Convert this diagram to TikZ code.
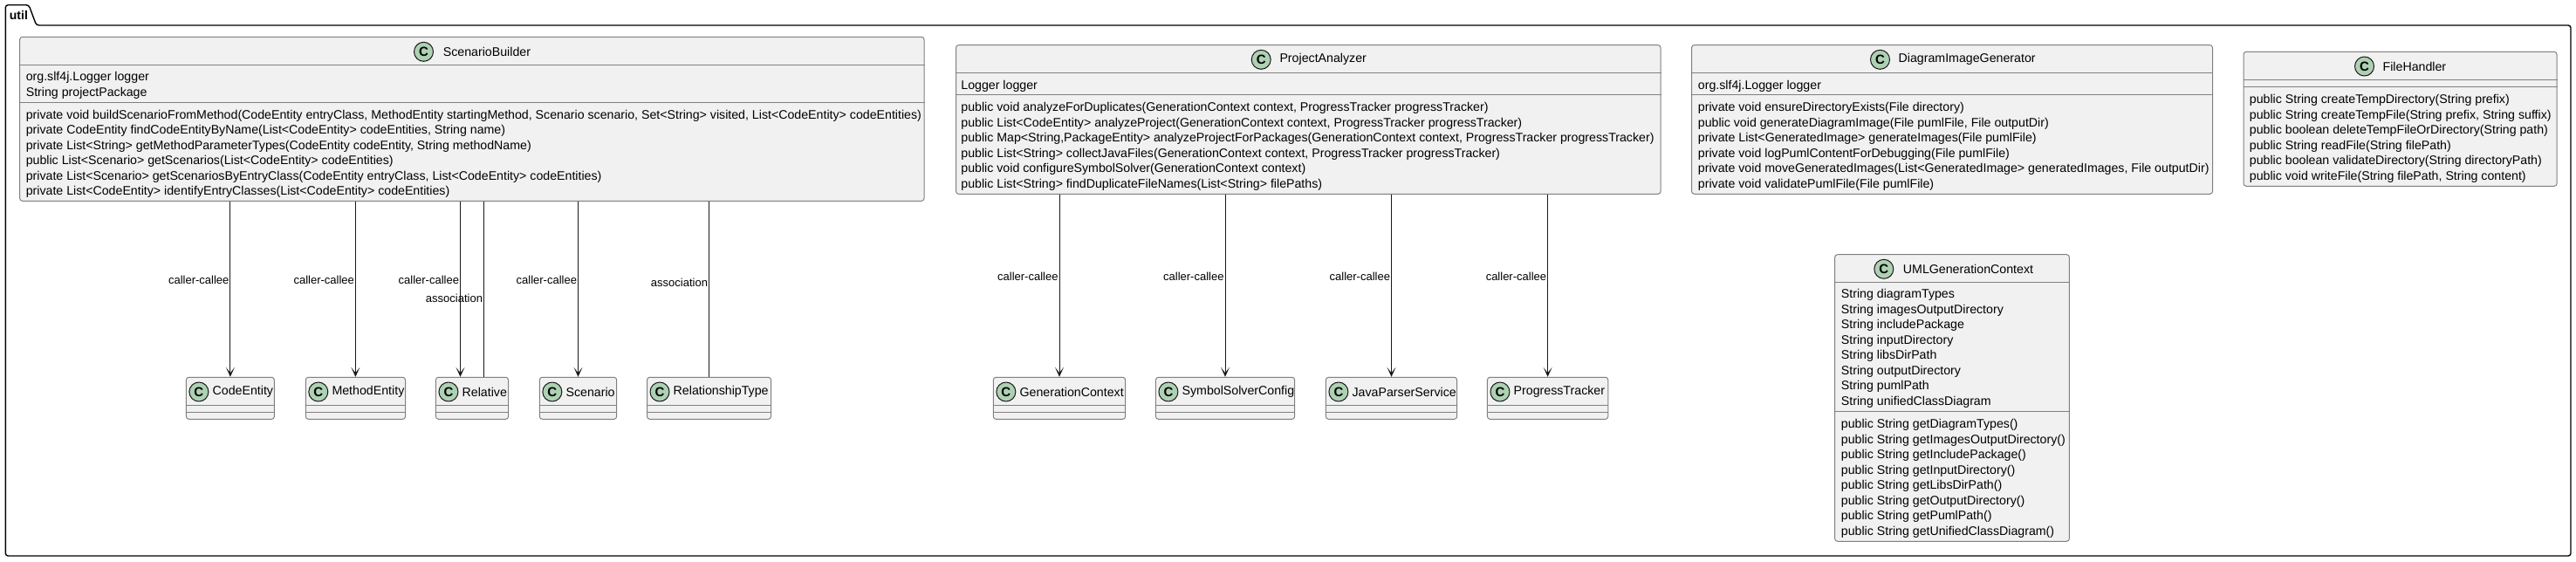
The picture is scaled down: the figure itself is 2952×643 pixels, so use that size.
\documentclass[tikz,border=0pt]{standalone}
\usepackage{fontspec}
\setmainfont{Liberation Sans}
\usetikzlibrary{arrows.meta,positioning}
\definecolor{boxfill}{HTML}{F1F1F1}
\definecolor{spotfill}{HTML}{ADD1B2}
\definecolor{inkline}{HTML}{181818}
\begin{document}
\begin{tikzpicture}[x=1pt, y=-1pt, line join=round, >={Stealth[length=11pt,width=10pt,inset=6.5pt]},
    classbox/.style={draw=gray, line width=1pt, fill=boxfill, rounded corners=3pt, inner sep=0pt},
    classname/.style={anchor=west, inner sep=0pt, font=\fontsize{14.2}{17}\selectfont},
    classmark/.style={circle, draw=inkline, line width=1pt, fill=spotfill, minimum size=22pt, inner sep=0pt, font=\fontsize{15}{17}\selectfont\bfseries},
    members/.style={anchor=west, align=left, inner sep=0pt, yshift=-1.2pt, font=\fontsize{14.18}{17.5}\selectfont},
    sepline/.style={draw=gray, line width=1pt},
    call/.style={draw=inkline, line width=1pt, ->},
    assoc/.style={draw=inkline, line width=1pt},
    linklabel/.style={left, inner sep=1pt, font=\fontsize{13}{15}\selectfont}]

    \useasboundingbox (0,0) rectangle (2952,643);

    \draw[line width=1.4pt, rounded corners=3pt] (6.3,29) -- (6.3,5.7) -- (33,5.7) -- (41.7,29) -- (2946,29) -- (2946,637) -- (6.3,637) -- (6.3,29);
    \node[anchor=base west, inner sep=0pt, font=\fontsize{14}{17}\selectfont\bfseries] (util) at (10.7,22.7) {util};

    \node[classbox, minimum width=1036.3pt, minimum height=188pt] (sb) at (540.85,136.3) {};
    \draw[sepline] (sb.west |- 0,74.3) -- (sb.east |- 0,74.3);
    \draw[sepline] (sb.west |- 0,117.3) -- (sb.east |- 0,117.3);
    \node[classname] (sbname) at (507.6,59.3) {ScenarioBuilder};
    \node[classmark, left=10.6pt of sbname] (sbmark) {C};
    \node[members] (sbfields) at (29.6,97) {\strut org.slf4j.Logger logger\\String projectPackage\strut};
    \node[members] (sbmethods) at (29.6,175.5) {\strut private void buildScenarioFromMethod(CodeEntity entryClass, MethodEntity startingMethod, Scenario scenario, Set<String> visited, List<CodeEntity> codeEntities)\\
        private CodeEntity findCodeEntityByName(List<CodeEntity> codeEntities, String name)\\
        private List<String> getMethodParameterTypes(CodeEntity codeEntity, String methodName)\\
        public List<Scenario> getScenarios(List<CodeEntity> codeEntities)\\
        private List<Scenario> getScenariosByEntryClass(CodeEntity entryClass, List<CodeEntity> codeEntities)\\
        private List<CodeEntity> identifyEntryClasses(List<CodeEntity> codeEntities)\strut};

    \node[classbox, minimum width=807.5pt, minimum height=170.6pt] (pa) at (1499.25,137) {};
    \draw[sepline] (pa.west |- 0,83.3) -- (pa.east |- 0,83.3);
    \draw[sepline] (pa.west |- 0,108.7) -- (pa.east |- 0,108.7);
    \node[classname] (paname) at (1466.3,68.3) {ProjectAnalyzer};
    \node[classmark, left=9.6pt of paname] (pamark) {C};
    \node[members] (pafields) at (1101.2,97.7) {\strut Logger logger\strut};
    \node[members] (pamethods) at (1101.2,166.8) {\strut public void analyzeForDuplicates(GenerationContext context, ProgressTracker progressTracker)\\
        public List<CodeEntity> analyzeProject(GenerationContext context, ProgressTracker progressTracker)\\
        public Map<String,PackageEntity> analyzeProjectForPackages(GenerationContext context, ProgressTracker progressTracker)\\
        public List<String> collectJavaFiles(GenerationContext context, ProgressTracker progressTracker)\\
        public void configureSymbolSolver(GenerationContext context)\\
        public List<String> findDuplicateFileNames(List<String> filePaths)\strut};

    \node[classbox, minimum width=597pt, minimum height=170.6pt] (dg) at (2237,137) {};
    \draw[sepline] (dg.west |- 0,83.3) -- (dg.east |- 0,83.3);
    \draw[sepline] (dg.west |- 0,108.7) -- (dg.east |- 0,108.7);
    \node[classname] (dgname) at (2175.4,68.3) {DiagramImageGenerator};
    \node[classmark, left=9.4pt of dgname] (dgmark) {C};
    \node[members] (dgfields) at (1945.7,97.7) {\strut org.slf4j.Logger logger\strut};
    \node[members] (dgmethods) at (1945.7,166.8) {\strut private void ensureDirectoryExists(File directory)\\
        public void generateDiagramImage(File pumlFile, File outputDir)\\
        private List<GeneratedImage> generateImages(File pumlFile)\\
        private void logPumlContentForDebugging(File pumlFile)\\
        private void moveGeneratedImages(List<GeneratedImage> generatedImages, File outputDir)\\
        private void validatePumlFile(File pumlFile)\strut};

    \node[classbox, minimum width=359pt, minimum height=154pt] (fh) at (2750.5,136.3) {};
    \draw[sepline] (fh.west |- 0,91.3) -- (fh.east |- 0,91.3);
    \draw[sepline] (fh.west |- 0,99.3) -- (fh.east |- 0,99.3);
    \node[classname] (fhname) at (2730.4,76) {FileHandler};
    \node[classmark, left=9.4pt of fhname] (fhmark) {C};
    \node[members] (fhmethods) at (2577.7,157.7) {\strut public String createTempDirectory(String prefix)\\
        public String createTempFile(String prefix, String suffix)\\
        public boolean deleteTempFileOrDirectory(String path)\\
        public String readFile(String filePath)\\
        public boolean validateDirectory(String directoryPath)\\
        public void writeFile(String filePath, String content)\strut};

    \node[classbox, minimum width=268.6pt, minimum height=328.6pt] (ug) at (2237,456) {};
    \draw[sepline] (ug.west |- 0,323.3) -- (ug.east |- 0,323.3);
    \draw[sepline] (ug.west |- 0,471.7) -- (ug.east |- 0,471.7);
    \node[classname] (ugname) at (2180.7,308.3) {UMLGenerationContext};
    \node[classmark, left=10.4pt of ugname] (ugmark) {C};
    \node[members] (ugfields) at (2109.7,398.5) {\strut String diagramTypes\\
        String imagesOutputDirectory\\
        String includePackage\\
        String inputDirectory\\
        String libsDirPath\\
        String outputDirectory\\
        String pumlPath\\
        String unifiedClassDiagram\strut};
    \node[members] (ugmethods) at (2109.7,547.3) {\strut public String getDiagramTypes()\\
        public String getImagesOutputDirectory()\\
        public String getIncludePackage()\\
        public String getInputDirectory()\\
        public String getLibsDirPath()\\
        public String getOutputDirectory()\\
        public String getPumlPath()\\
        public String getUnifiedClassDiagram()\strut};

    \foreach \id/\title/\cx/\boxw in {ce/CodeEntity/263.9/101, me/MethodEntity/407.4/114.2, re/Relative/541/83.1,
        sc/Scenario/662.5/88.3, rt/RelationshipType/812.5/142,
        gc/GenerationContext/1214/151.3, ss/SymbolSolverConfig/1404/159.2,
        jp/JavaParserService/1594.5/150.2, pt/ProgressTracker/1773.6/138.3} {
        \node[classbox, minimum width=\boxw pt, minimum height=48pt] (\id) at (\cx,456.3) {};
        \draw[sepline] (\id.west |- 0,464.3) -- (\id.east |- 0,464.3);
        \draw[sepline] (\id.west |- 0,472.3) -- (\id.east |- 0,472.3);
        \node[classname] (\id name) at ({\cx-\boxw/2+30},449) {\title};
        \node[classmark, left=4pt of \id name] (\id mark) {C};
    }

    \coordinate (recall) at ([xshift=-13.5pt]re.north);
    \coordinate (reassoc) at ([xshift=13.5pt]re.north);

    \draw[call] (sb.south -| ce.north) -- node[linklabel, pos=.45] {caller-callee} (ce.north);
    \draw[call] (sb.south -| me.north) -- node[linklabel, pos=.45] {caller-callee} (me.north);
    \draw[call] (sb.south -| recall) -- node[linklabel, pos=.45] {caller-callee} (recall);
    \draw[assoc] (sb.south -| reassoc) -- node[linklabel, pos=.55] {association} (reassoc);
    \draw[call] (sb.south -| sc.north) -- node[linklabel, pos=.45] {caller-callee} (sc.north);
    \draw[assoc] (sb.south -| rt.north) -- node[linklabel, pos=.4624] {association} (rt.north);

    \draw[call] (pa.south -| gc.north) -- node[linklabel, pos=.45] {caller-callee} (gc.north);
    \draw[call] (pa.south -| ss.north) -- node[linklabel, pos=.45] {caller-callee} (ss.north);
    \draw[call] (pa.south -| jp.north) -- node[linklabel, pos=.45] {caller-callee} (jp.north);
    \draw[call] (pa.south -| pt.north) -- node[linklabel, pos=.45] {caller-callee} (pt.north);
\end{tikzpicture}
\end{document}
